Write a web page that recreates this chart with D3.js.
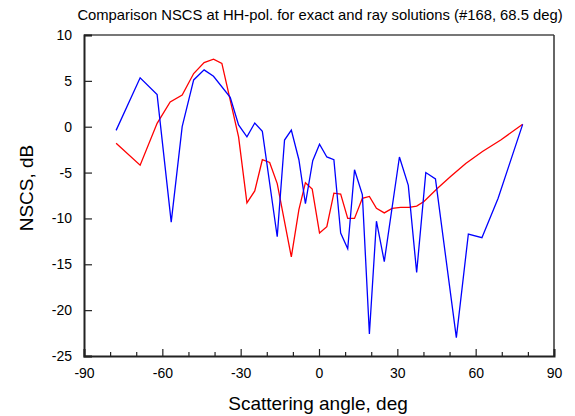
<!DOCTYPE html>
<html>
<head>
<meta charset="utf-8">
<script src="https://cdn.jsdelivr.net/npm/d3@7"></script>
<style>
  html, body { margin: 0; padding: 0; background: #fff; }
  svg { display: block; }
  text { font-family: "Liberation Sans", Arial, sans-serif; fill: #000; }
</style>
</head>
<body>
<svg id="chart" width="575" height="416"></svg>
<script>
const titleText = "Comparison NSCS at HH-pol. for exact and ray solutions (#168, 68.5 deg)";
const xLabel = "Scattering angle, deg";
const yLabel = "NSCS, dB";
const xTicks = [-90, -60, -30, 0, 30, 60, 90];
const xMinorTicks = [-80, -70, -50, -40, -20, -10, 10, 20, 40, 50, 70, 80];
const yTicks = [10, 5, 0, -5, -10, -15, -20, -25];

// exact solution (blue)
const exactAngle = [-77.7, -68.5, -62, -56.6, -52.4, -48, -44, -40.4, -34, -30.8, -27.6, -24.6, -21.7, -16, -13.2, -10.6, -7.7, -5.2, -2.4, 0.2, 3, 5.7, 8.3, 11, 13.6, 16.6, 19.3, 22, 25, 30.8, 34.2, 37.4, 40.9, 44.6, 52.6, 57.2, 62.4, 68.6, 78];
const exactNSCS = [-0.4, 5.33, 3.5, -10.4, 0, 5.1, 6.2, 5.5, 3.2, 0.2, -1.1, 0.4, -0.5, -12.0, -1.45, -0.36, -3.6, -8.4, -3.7, -1.9, -3.3, -3.6, -11.6, -13.3, -4.7, -7.4, -22.6, -10.3, -14.7, -3.3, -6.4, -15.9, -5.0, -5.7, -23.0, -11.7, -12.1, -7.8, 0.26];

// ray solution (red)
const rayAngle = [-77.7, -68.5, -62, -57, -52.4, -48, -44, -40.4, -37.2, -30.8, -27.6, -24.6, -21.7, -18.9, -16, -10.6, -7.7, -5.2, -2.6, 0.2, 3, 5.7, 8.3, 11, 13.6, 16.6, 19.3, 22, 25, 28, 31.3, 34.5, 37.4, 40.2, 45.4, 50.5, 56.2, 62.6, 69.6, 78];
const rayNSCS = [-1.8, -4.2, 0.37, 2.7, 3.45, 5.8, 7.0, 7.36, 6.9, -1.1, -8.3, -7.0, -3.6, -3.9, -6.2, -14.2, -9.05, -6.1, -6.8, -11.6, -10.9, -7.25, -7.35, -10.0, -10.0, -7.8, -7.6, -8.9, -9.4, -8.9, -8.8, -8.8, -8.65, -8.15, -6.7, -5.4, -4.0, -2.7, -1.45, 0.26];

const svg = d3.select("#chart");
const L = 84, R = 554, T = 35, B = 356;
const fmt = d => String(d);

const x = d3.scaleLinear().domain([-90, 90]).range([L, R]);
const y = d3.scaleLinear().domain([-25, 10]).range([B, T]);

// frame: top and right
svg.append("line").attr("x1", L).attr("x2", R).attr("y1", T).attr("y2", T)
  .attr("stroke", "#777").attr("stroke-width", 2);
svg.append("line").attr("x1", R).attr("x2", R).attr("y1", T).attr("y2", B)
  .attr("stroke", "#333").attr("stroke-width", 1.5);

// clip
svg.append("clipPath").attr("id", "clip").append("rect")
  .attr("x", L).attr("y", T).attr("width", R - L).attr("height", B - T);

const line = d3.line().x(d => x(d[0])).y(d => y(d[1]));

const g = svg.append("g").attr("clip-path", "url(#clip)");
g.append("path").datum(rayAngle.map((a, i) => [a, rayNSCS[i]]))
  .attr("d", line).attr("fill", "none").attr("stroke", "#ff0000").attr("stroke-width", 1.3);
g.append("path").datum(exactAngle.map((a, i) => [a, exactNSCS[i]]))
  .attr("d", line).attr("fill", "none").attr("stroke", "#0000ff").attr("stroke-width", 1.3);

// x axis
const xAxis = d3.axisBottom(x).tickValues(xTicks).tickSize(-7).tickPadding(12).tickFormat(fmt);
const xg = svg.append("g").attr("transform", `translate(0,${B})`).call(xAxis);
xg.select(".domain").attr("stroke", "#222").attr("stroke-width", 2);
xg.selectAll(".tick line").attr("stroke", "#222").attr("stroke-width", 1.2);
xg.selectAll(".tick text").attr("font-size", 14).attr("dy", "0.71em")
  .attr("font-family", "Liberation Sans, Arial, sans-serif").attr("fill", "#000");
const xMinor = d3.axisBottom(x).tickValues(xMinorTicks).tickSize(-4).tickFormat("");
const xmg = svg.append("g").attr("transform", `translate(0,${B})`).call(xMinor);
xmg.select(".domain").remove();
xmg.selectAll(".tick line").attr("stroke", "#222").attr("stroke-width", 1.2);

// y axis
const yAxis = d3.axisLeft(y).tickValues(yTicks).tickSize(-8).tickPadding(12).tickFormat(fmt);
const yg = svg.append("g").attr("transform", `translate(${L},0)`).call(yAxis);
yg.select(".domain").attr("stroke", "#222").attr("stroke-width", 2);
yg.selectAll(".tick line").attr("stroke", "#222").attr("stroke-width", 1.2);
yg.selectAll(".tick text").attr("font-size", 14)
  .attr("font-family", "Liberation Sans, Arial, sans-serif").attr("fill", "#000");

// title & labels
svg.append("text").attr("x", 320).attr("y", 20).attr("text-anchor", "middle")
  .attr("font-size", 14.8).text(titleText);
svg.append("text").attr("x", 318).attr("y", 410).attr("text-anchor", "middle")
  .attr("font-size", 19).text(xLabel);
svg.append("text").attr("transform", `translate(33,188) rotate(-90)`)
  .attr("text-anchor", "middle").attr("font-size", 19).text(yLabel);
</script>
</body>
</html>
